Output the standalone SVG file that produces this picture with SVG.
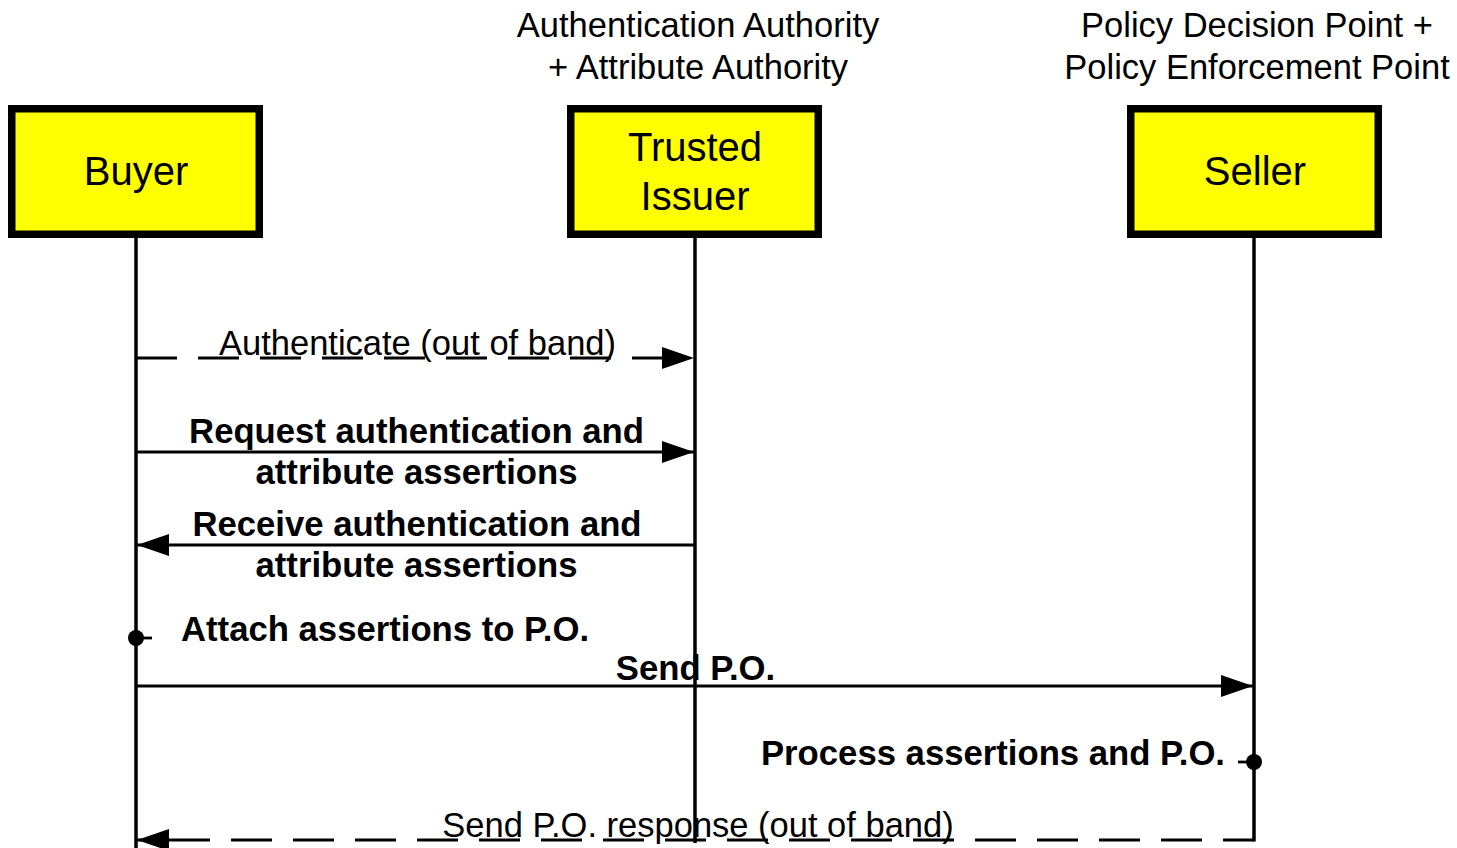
<svg xmlns="http://www.w3.org/2000/svg" width="1457" height="848" viewBox="0 0 1457 848">
<style>
.box{fill:#ffff00;stroke:#000;stroke-width:7.5}
.lbl{font-family:"Liberation Sans",Arial,sans-serif;font-size:40px;text-anchor:middle;fill:#000}
.hdr{font-family:"Liberation Sans",Arial,sans-serif;font-size:34.5px;text-anchor:middle;fill:#000}
.msg{font-family:"Liberation Sans",Arial,sans-serif;font-size:34.5px;fill:#000}
.b{font-weight:bold;font-size:34.7px}
.life{stroke:#000;stroke-width:3.5;fill:none}
.ln{stroke:#000;stroke-width:2.8;fill:none}
.dash{stroke:#000;stroke-width:2.8;fill:none;stroke-dasharray:41 21}
</style>
<defs>
<marker id="ah" markerUnits="userSpaceOnUse" markerWidth="34" markerHeight="24" refX="32" refY="11" orient="auto">
<path d="M0,0 L32,11 L0,22 Z" fill="#000"/>
</marker>
<marker id="ahs" markerUnits="userSpaceOnUse" markerWidth="34" markerHeight="24" refX="32" refY="11" orient="auto-start-reverse">
<path d="M0,0 L32,11 L0,22 Z" fill="#000"/>
</marker>
</defs>
<rect width="1457" height="848" fill="#fff"/>
<text class="hdr" x="698" y="37">Authentication Authority</text>
<text class="hdr" x="698" y="79">+ Attribute Authority</text>
<text class="hdr" x="1257" y="37">Policy Decision Point +</text>
<text class="hdr" x="1257" y="79">Policy Enforcement Point</text>
<g id="lifelines">
<line class="life" x1="136" y1="238" x2="136" y2="848"/>
<line class="life" x1="695" y1="238" x2="695" y2="843"/>
<line class="life" x1="1254" y1="238" x2="1254" y2="841.5"/>
</g>
<g id="buyer">
<rect class="box" x="11.75" y="108.75" width="247.5" height="125.5"/>
<text class="lbl" x="136" y="185">Buyer</text>
</g>
<g id="trusted-issuer">
<rect class="box" x="570.75" y="108.75" width="247.5" height="125.5"/>
<text class="lbl" x="695" y="161">Trusted</text>
<text class="lbl" x="695" y="210">Issuer</text>
</g>
<g id="seller">
<rect class="box" x="1130.75" y="108.75" width="247.5" height="125.5"/>
<text class="lbl" x="1255" y="185">Seller</text>
</g>
<g id="connectors">
<line class="dash" x1="136" y1="358" x2="694" y2="358" marker-end="url(#ah)"/>
<line class="ln" x1="136" y1="452" x2="694" y2="452" marker-end="url(#ah)"/>
<line class="ln" x1="695" y1="545" x2="137" y2="545" marker-end="url(#ah)"/>
<line class="ln" x1="136" y1="638" x2="152" y2="638"/>
<circle cx="136" cy="638" r="8" fill="#000"/>
<line class="ln" x1="136" y1="686" x2="1253" y2="686" marker-end="url(#ah)"/>
<line class="ln" x1="1238" y1="762" x2="1254" y2="762"/>
<circle cx="1254" cy="762" r="8" fill="#000"/>
<line class="dash" x1="137" y1="840" x2="1254" y2="840" style="stroke-dashoffset:30" marker-start="url(#ahs)"/>
</g>
<g id="labels">
<text class="msg" x="417.5" y="355" text-anchor="middle">Authenticate (out of band)</text>
<text class="msg b" x="416.5" y="443" text-anchor="middle">Request authentication and</text>
<text class="msg b" x="416.5" y="484" text-anchor="middle">attribute assertions</text>
<text class="msg b" x="417" y="536" text-anchor="middle">Receive authentication and</text>
<text class="msg b" x="416.5" y="577" text-anchor="middle">attribute assertions</text>
<text class="msg b" x="181" y="641">Attach assertions to P.O.</text>
<text class="msg b" x="695.5" y="680" text-anchor="middle">Send P.O.</text>
<text class="msg b" x="1225" y="765" text-anchor="end">Process assertions and P.O.</text>
<text class="msg" x="698" y="837" text-anchor="middle">Send P.O. response (out of band)</text>
</g>
</svg>
